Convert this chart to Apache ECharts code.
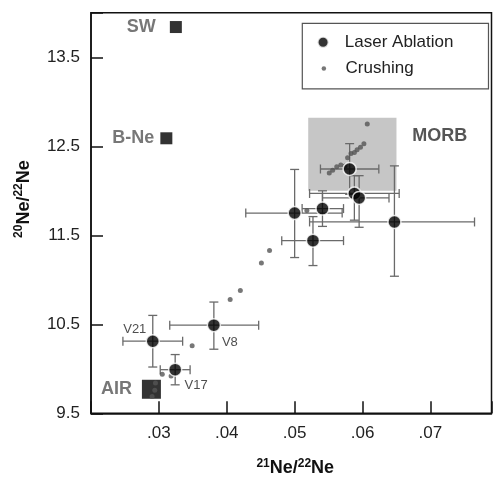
<!DOCTYPE html>
<html><head><meta charset="utf-8">
<script src="https://cdn.jsdelivr.net/npm/echarts@6/dist/echarts.min.js"></script>
<style>html,body{margin:0;padding:0;background:#fff}#c{width:493px;height:477px}</style>
</head><body><div id="c"></div>
<script>
// Laser ablation analyses (21Ne/22Ne, 20Ne/22Ne) with error bar limits
const laserNames = ['V21', 'V17', 'V8', '', '', '', '', '', '', ''];
const laserX  = [0.0291, 0.0324, 0.0381, 0.0500, 0.0527, 0.0541, 0.0581, 0.0588, 0.0595, 0.0647];
const laserY  = [10.31, 9.99, 10.49, 11.75, 11.44, 11.80, 12.245, 11.97, 11.92, 11.65];
const laserXLo = [0.0247, 0.0302, 0.0316, 0.0428, 0.0481, 0.0511, 0.0538, 0.0522, 0.0541, 0.0522];
const laserXHi = [0.0335, 0.0346, 0.0447, 0.0570, 0.0572, 0.0572, 0.0624, 0.0654, 0.0639, 0.0765];
const laserYLo = [10.02, 9.82, 10.22, 11.25, 11.16, 11.60, 11.96, 11.67, 11.59, 11.04];
const laserYHi = [10.60, 10.16, 10.75, 12.24, 11.71, 12.00, 12.53, 12.17, 12.17, 12.28];

// Crushing analyses
const crushX = [0.0607, 0.0602, 0.0597, 0.0592, 0.0588, 0.0583, 0.0578, 0.0574, 0.0568, 0.0562, 0.0556, 0.0551,
                0.0518, 0.0463, 0.0451, 0.0420, 0.0405, 0.0349, 0.0318, 0.0305, 0.0295, 0.0294, 0.0290];
const crushY = [12.75, 12.53, 12.49, 12.46, 12.43, 12.42, 12.37, 12.28, 12.29, 12.27, 12.23, 12.20,
                11.78, 11.33, 11.19, 10.88, 10.78, 10.26, 9.92, 9.94, 9.84, 9.76, 9.69];

// Reference end-members
const refNames = ['SW', 'B-Ne', 'AIR'];
const refX = [0.0325, 0.0311, 0.0289];
const refY = [13.84, 12.59, 9.77];

// MORB field
const morbX = [0.052, 0.065];
const morbY = [12.0, 12.82];

// Axes
const xMin = 0.02, xMax = 0.079, xStep = 0.01;
const yMin = 9.5, yMax = 14.0, yStep = 1;

const FONT = 'Liberation Sans, Arial, sans-serif';
const chart = echarts.init(document.getElementById('c'), null, {renderer: 'canvas'});

const laserLabelOffsets = [[-18, -12], [21, 16], [16, 17]];
const refLabelDist = [14, 6, 10];
const refSizes = [12, 12, 19];

const errData = laserX.map((x, i) => [x, laserY[i], laserXLo[i], laserXHi[i], laserYLo[i], laserYHi[i]]);

function renderErr(params, api) {
  const x = api.value(0), y = api.value(1);
  const pL = api.coord([api.value(2), y]);
  const pR = api.coord([api.value(3), y]);
  const pB = api.coord([x, api.value(4)]);
  const pT = api.coord([x, api.value(5)]);
  const c = 4.5;
  const st = {stroke: '#6a6a6a', lineWidth: 1.3};
  const ln = (x1, y1, x2, y2) => ({type: 'line', shape: {x1, y1, x2, y2}, style: st});
  return {type: 'group', children: [
    ln(pL[0], pL[1], pR[0], pR[1]),
    ln(pL[0], pL[1] - c, pL[0], pL[1] + c),
    ln(pR[0], pR[1] - c, pR[0], pR[1] + c),
    ln(pB[0], pB[1], pT[0], pT[1]),
    ln(pB[0] - c, pB[1], pB[0] + c, pB[1]),
    ln(pT[0] - c, pT[1], pT[0] + c, pT[1])
  ]};
}

const legendText = {fontSize: 17, color: '#222', fontFamily: FONT, lineHeight: 20};

const option = {
  animation: false,
  backgroundColor: '#fff',
  textStyle: {fontFamily: FONT},
  grid: {left: 91, right: 1.5, top: 12.8, bottom: 63.7, containLabel: false, outerBoundsMode: 'none',
    show: true, borderColor: '#111', borderWidth: 1.5},
  legend: [
    {
      left: 302.3, top: 23.3, orient: 'vertical',
      itemWidth: 33.4, itemHeight: 11, itemGap: 6,
      padding: [9, 35, 36.5, 14.3],
      borderColor: '#555', borderWidth: 1.2, backgroundColor: '#fff',
      textStyle: legendText,
      data: [{name: 'Laser Ablation', icon: 'circle'}]
    },
    {
      left: 321.6, top: 58.5, orient: 'vertical',
      itemWidth: 33.4, itemHeight: 4.5, itemGap: 6, padding: 0,
      textStyle: legendText,
      data: [{name: 'Crushing', icon: 'circle'}]
    }
  ],
  xAxis: {
    type: 'value', min: xMin, max: xMax, interval: xStep,
    axisLine: {lineStyle: {color: '#111', width: 1.5}},
    axisTick: {show: true, inside: true, length: 12, lineStyle: {color: '#111', width: 1.5}},
    splitLine: {show: false},
    axisLabel: {fontSize: 17, color: '#222', margin: 12, fontFamily: FONT,
      formatter: v => {
        const n = v * 100;
        if (Math.abs(n - Math.round(n)) > 1e-6 || Math.round(n) === 2) return '';
        return '.0' + Math.round(n);
      }},
    name: '{sup|21}{main|Ne/}{sup|22}{main|Ne}',
    nameLocation: 'middle', nameGap: 44,
    nameTextStyle: {padding: [0, 0, 0, 8], rich: {
      main: {fontSize: 18, fontWeight: 'bold', color: '#111', lineHeight: 22, fontFamily: FONT},
      sup: {fontSize: 12, fontWeight: 'bold', color: '#111', lineHeight: 12, verticalAlign: 'top', fontFamily: FONT}
    }}
  },
  yAxis: {
    type: 'value', min: yMin, max: yMax, interval: yStep,
    axisLine: {lineStyle: {color: '#111', width: 1.5}},
    axisTick: {show: true, inside: true, length: 12, lineStyle: {color: '#111', width: 1.5}},
    splitLine: {show: false},
    axisLabel: {fontSize: 17, color: '#222', margin: 11, fontFamily: FONT,
      formatter: v => {
        const h = v * 2;
        if (Math.abs(h - Math.round(h)) > 1e-6 || Math.round(h) % 2 === 0) return '';
        return v.toFixed(1);
      }},
    name: '{sup|20}{main|Ne/}{sup|22}{main|Ne}',
    nameLocation: 'middle', nameGap: 56,
    nameTextStyle: {padding: [0, 0, 0, 28], rich: {
      main: {fontSize: 18, fontWeight: 'bold', color: '#111', lineHeight: 22, fontFamily: FONT},
      sup: {fontSize: 12, fontWeight: 'bold', color: '#111', lineHeight: 12, verticalAlign: 'top', fontFamily: FONT}
    }}
  },
  series: [
    {
      name: 'Error bars', type: 'custom', z: 2, silent: true,
      renderItem: renderErr, data: errData, encode: {x: 0, y: 1}
    },
    {
      name: 'End-members', type: 'scatter', z: 2, symbol: 'rect',
      symbolSize: (v, p) => refSizes[p.dataIndex],
      itemStyle: {color: '#000'},
      data: refX.map((x, i) => ({
        value: [x, refY[i]], name: refNames[i],
        label: {show: true, position: 'left', distance: refLabelDist[i], formatter: '{b}',
          fontSize: 18, fontWeight: 'bold', color: '#555', fontFamily: FONT}
      }))
    },
    {
      name: 'Crushing', type: 'scatter', z: 3, symbol: 'circle', symbolSize: 5,
      itemStyle: {color: '#555'},
      data: crushX.map((x, i) => [x, crushY[i]]),
      markArea: {
        silent: true, z: 1,
        itemStyle: {color: '#c6c6c6', borderWidth: 0},
        label: {show: true, position: [104, 9], fontSize: 18, fontWeight: 'bold', color: '#555', fontFamily: FONT},
        data: [[{name: 'MORB', coord: [morbX[0], morbY[1]]}, {coord: [morbX[1], morbY[0]]}]]
      }
    },
    {
      name: 'Laser Ablation', type: 'scatter', z: 4, symbol: 'circle', symbolSize: 13,
      itemStyle: {color: '#000', borderColor: '#fff', borderWidth: 1.5},
      data: laserX.map((x, i) => {
        const d = {value: [x, laserY[i]], name: laserNames[i]};
        if (laserNames[i]) {
          d.label = {show: true, position: 'inside', offset: laserLabelOffsets[i], formatter: '{b}',
            fontSize: 13, color: '#222', fontFamily: FONT};
        }
        return d;
      })
    }
  ]
};
chart.setOption(option);
</script>
</body></html>
